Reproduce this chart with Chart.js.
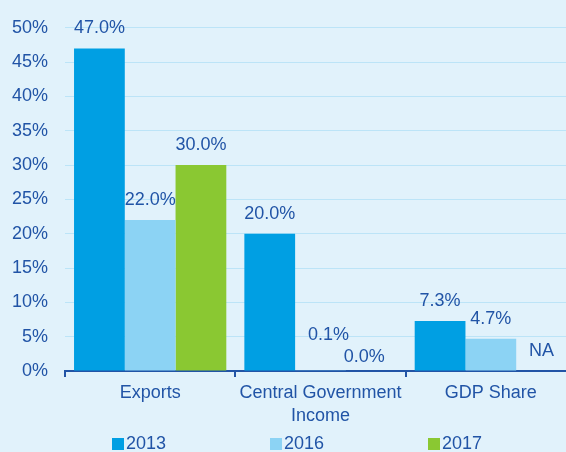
<!DOCTYPE html>
<html>
<head>
<meta charset="utf-8">
<script src="https://cdn.jsdelivr.net/npm/chart.js@4"></script>
<style>
  html, body { margin: 0; padding: 0; overflow: hidden; background: #e1f2fb; }
  #wrap { width: 576px; height: 452px; }
</style>
</head>
<body>
<div id="wrap"><canvas id="myChart"></canvas></div>
<script>
var categories = ['Exports', ['Central Government', 'Income'], 'GDP Share'];
var years = ['2013', '2016', '2017'];
var values2013 = [47.0, 20.0, 7.3];
var values2016 = [22.0, 0.1, 4.7];
var values2017 = [30.0, 0.0, null];   // no 2017 GDP figure

var darkBlue = '#2154a6';
var colors = ['#009fe3', '#8cd3f4', '#8ac832'];
var font = "'Liberation Sans', Arial, sans-serif";

// value labels above each bar; key is "category-dataset", a couple nudged apart
var labelNudge = { '1-1': [8, -15], '1-2': [-7, 6] };

var valueLabels = {
  id: 'valueLabels',
  afterDatasetsDraw: function(chart) {
    var ctx = chart.ctx;
    var base = chart.scales.y.getPixelForValue(0);
    ctx.save();
    ctx.font = '18px ' + font;
    ctx.fillStyle = darkBlue;
    ctx.textAlign = 'center';
    ctx.textBaseline = 'middle';
    chart.data.datasets.forEach(function(ds, d) {
      chart.getDatasetMeta(d).data.forEach(function(bar, i) {
        var v = ds.data[i];
        var text = v === null ? 'NA' : v.toFixed(1) + '%';
        var top = v === null ? base : bar.y;
        var n = labelNudge[i + '-' + d] || [0, 0];
        ctx.fillText(text, bar.x + n[0], top - 20 + n[1]);
      });
    });
    ctx.restore();
  }
};

var squareLegend = {
  id: 'squareLegend',
  afterDraw: function(chart) {
    var ctx = chart.ctx;
    ctx.save();
    ctx.font = '18px ' + font;
    ctx.textBaseline = 'middle';
    chart.data.datasets.forEach(function(ds, d) {
      var x = 112 + d * 158;
      var y = 444;
      ctx.fillStyle = ds.backgroundColor;
      ctx.fillRect(x, y - 6, 12, 12);
      ctx.fillStyle = darkBlue;
      ctx.fillText(ds.label, x + 14, y);
    });
    ctx.restore();
  }
};

var ctx = document.getElementById('myChart').getContext('2d');
var myChart = new Chart(ctx, {
  type: 'bar',
  data: {
    labels: categories,
    datasets: [
      { label: years[0], data: values2013, backgroundColor: colors[0] },
      { label: years[1], data: values2016, backgroundColor: colors[1] },
      { label: years[2], data: values2017, backgroundColor: colors[2] }
    ]
  },
  options: {
    responsive: true,
    maintainAspectRatio: false,
    animation: false,
    layout: { padding: { top: 25, bottom: 29, right: 0 } },
    datasets: {
      bar: { categoryPercentage: 0.894, barPercentage: 1.0 }
    },
    scales: {
      x: {
        grid: {
          offset: true,
          drawOnChartArea: false,
          color: darkBlue,
          lineWidth: 2,
          tickLength: 6
        },
        border: { color: darkBlue, width: 2 },
        ticks: {
          color: darkBlue,
          font: { family: font, size: 18, lineHeight: 1.25 },
          padding: 5,
          maxRotation: 0
        },
        afterFit: function(scale) { scale.height = 52; }
      },
      y: {
        min: 0,
        max: 50,
        grid: { color: '#bce4f7', lineWidth: 1, drawTicks: false },
        border: { display: false },
        ticks: {
          stepSize: 5,
          color: darkBlue,
          padding: 17,
          font: { family: font, size: 18 },
          callback: function(v) { return v + '%'; }
        },
        afterFit: function(scale) { scale.width = 65; }
      }
    },
    plugins: {
      legend: { display: false },
      tooltip: { enabled: false }
    }
  },
  plugins: [valueLabels, squareLegend]
});
</script>
</body>
</html>
